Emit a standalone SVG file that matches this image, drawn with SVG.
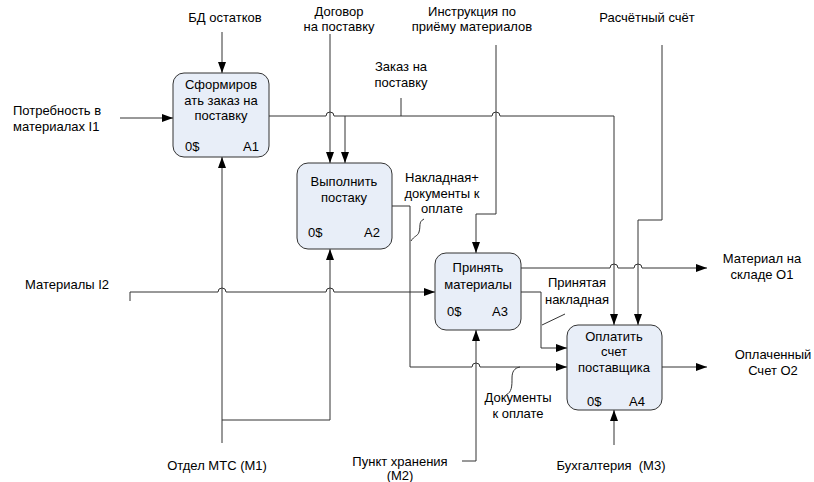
<svg xmlns="http://www.w3.org/2000/svg" width="814" height="482" viewBox="0 0 814 482">
<defs>
<marker id="arr" markerUnits="userSpaceOnUse" markerWidth="11" markerHeight="8" refX="11" refY="4" orient="auto">
<path d="M0,0 L11,4 L0,8 z" fill="#000"/>
</marker>
<style>
text{font-family:"Liberation Sans",Arial,sans-serif;font-size:13px;fill:#000}
.c{text-anchor:middle}
.e{text-anchor:end}
.box{fill:#e8eef8;stroke:#333;stroke-width:1}
.ln{fill:none;stroke:#333;stroke-width:1}
.a{marker-end:url(#arr)}
</style>
</defs>
<rect width="814" height="482" fill="#fff"/>

<g id="connectors">
<path class="ln a" d="M222,32 V73"/>
<path class="ln a" d="M120,118 H173"/>
<path class="ln a" d="M268,116 H326 a4,4 0 0 1 8,0 H492 a4,4 0 0 1 8,0 H614 V325"/>
<path class="ln a" d="M345,116 V163"/>
<path class="ln" d="M401,98 V116"/>
<path class="ln a" d="M330,34 V163"/>
<path class="ln a" d="M496,45 V214 H476 V253"/>
<path class="ln a" d="M662,45 V220 H638 V325"/>
<path class="ln a" d="M130,301 V292 H218 a4,4 0 0 1 8,0 H326 a4,4 0 0 1 8,0 H435"/>
<path class="ln a" d="M222,443 V157"/>
<path class="ln a" d="M222,420 H330 V249"/>
<path class="ln a" d="M392,206 H410 V367 H472 a4,4 0 0 1 8,0 H567"/>
<path class="ln" d="M411,241 C414,236 418,236 419,232 C421,226 418,222 424,219"/>
<path class="ln" d="M520,367 C514,368 512,372 512,378 C512,386 512,392 506,395"/>
<path class="ln a" d="M521,268 H610 a4,4 0 0 1 8,0 H634 a4,4 0 0 1 8,0 H707"/>
<path class="ln a" d="M521,292 H541 V348 H567"/>
<path class="ln" d="M542,325 L565,314"/>
<path class="ln a" d="M462,461 H476 V330"/>
<path class="ln a" d="M614,445 V410"/>
<path class="ln a" d="M662,367 H707"/>
</g>

<g id="A1">
<rect class="box" x="173" y="73" width="96" height="84" rx="11"/>
<text class="c" x="221" y="89">Сформиров</text>
<text class="c" x="221" y="105">ать заказ на</text>
<text class="c" x="221" y="120">поставку</text>
<text x="185" y="151">0$</text>
<text class="e" x="259" y="151">A1</text>
</g>

<g id="A2">
<rect class="box" x="297" y="163" width="95" height="86" rx="11"/>
<text class="c" x="344" y="186">Выполнить</text>
<text class="c" x="344" y="202">постаку</text>
<text x="308" y="237">0$</text>
<text class="e" x="380" y="237">A2</text>
</g>

<g id="A3">
<rect class="box" x="435" y="253" width="86" height="77" rx="11"/>
<text class="c" x="478" y="272">Принять</text>
<text class="c" x="478" y="289">материалы</text>
<text x="447" y="316">0$</text>
<text class="e" x="508" y="316">A3</text>
</g>

<g id="A4">
<rect class="box" x="567" y="325" width="95" height="85" rx="11"/>
<text class="c" x="614" y="341">Оплатить</text>
<text class="c" x="614" y="356">счет</text>
<text class="c" x="614" y="372">поставщика</text>
<text x="587" y="406">0$</text>
<text class="e" x="645" y="406">A4</text>
</g>

<g id="labels">
<text class="c" x="225" y="22">БД остатков</text>
<text x="13" y="115">Потребность в</text>
<text x="13" y="131">материалах I1</text>
<text class="c" x="339" y="16">Договор</text>
<text class="c" x="339" y="31">на поставку</text>
<text class="c" x="472" y="16">Инструкция по</text>
<text class="c" x="472" y="31">приёму материалов</text>
<text class="c" x="647" y="22">Расчётный счёт</text>
<text class="c" x="401" y="71">Заказ на</text>
<text class="c" x="401" y="87">поставку</text>
<text class="c" x="442" y="182">Накладная+</text>
<text class="c" x="442" y="198">документы к</text>
<text class="c" x="442" y="213">оплате</text>
<text x="25" y="289">Материалы I2</text>
<text class="c" x="577" y="287">Принятая</text>
<text class="c" x="577" y="304">накладная</text>
<text class="c" x="518" y="402">Документы</text>
<text class="c" x="518" y="418">к оплате</text>
<text class="c" x="762" y="263">Материал на</text>
<text class="c" x="762" y="279">складе О1</text>
<text class="c" x="773" y="359">Оплаченный</text>
<text class="c" x="773" y="375">Счет О2</text>
<text class="c" x="217" y="470">Отдел МТС (М1)</text>
<text class="c" x="400" y="466">Пункт хранения</text>
<text class="c" x="400" y="480">(М2)</text>
<text class="c" x="611" y="470" xml:space="preserve">Бухгалтерия  (М3)</text>
</g>
</svg>
